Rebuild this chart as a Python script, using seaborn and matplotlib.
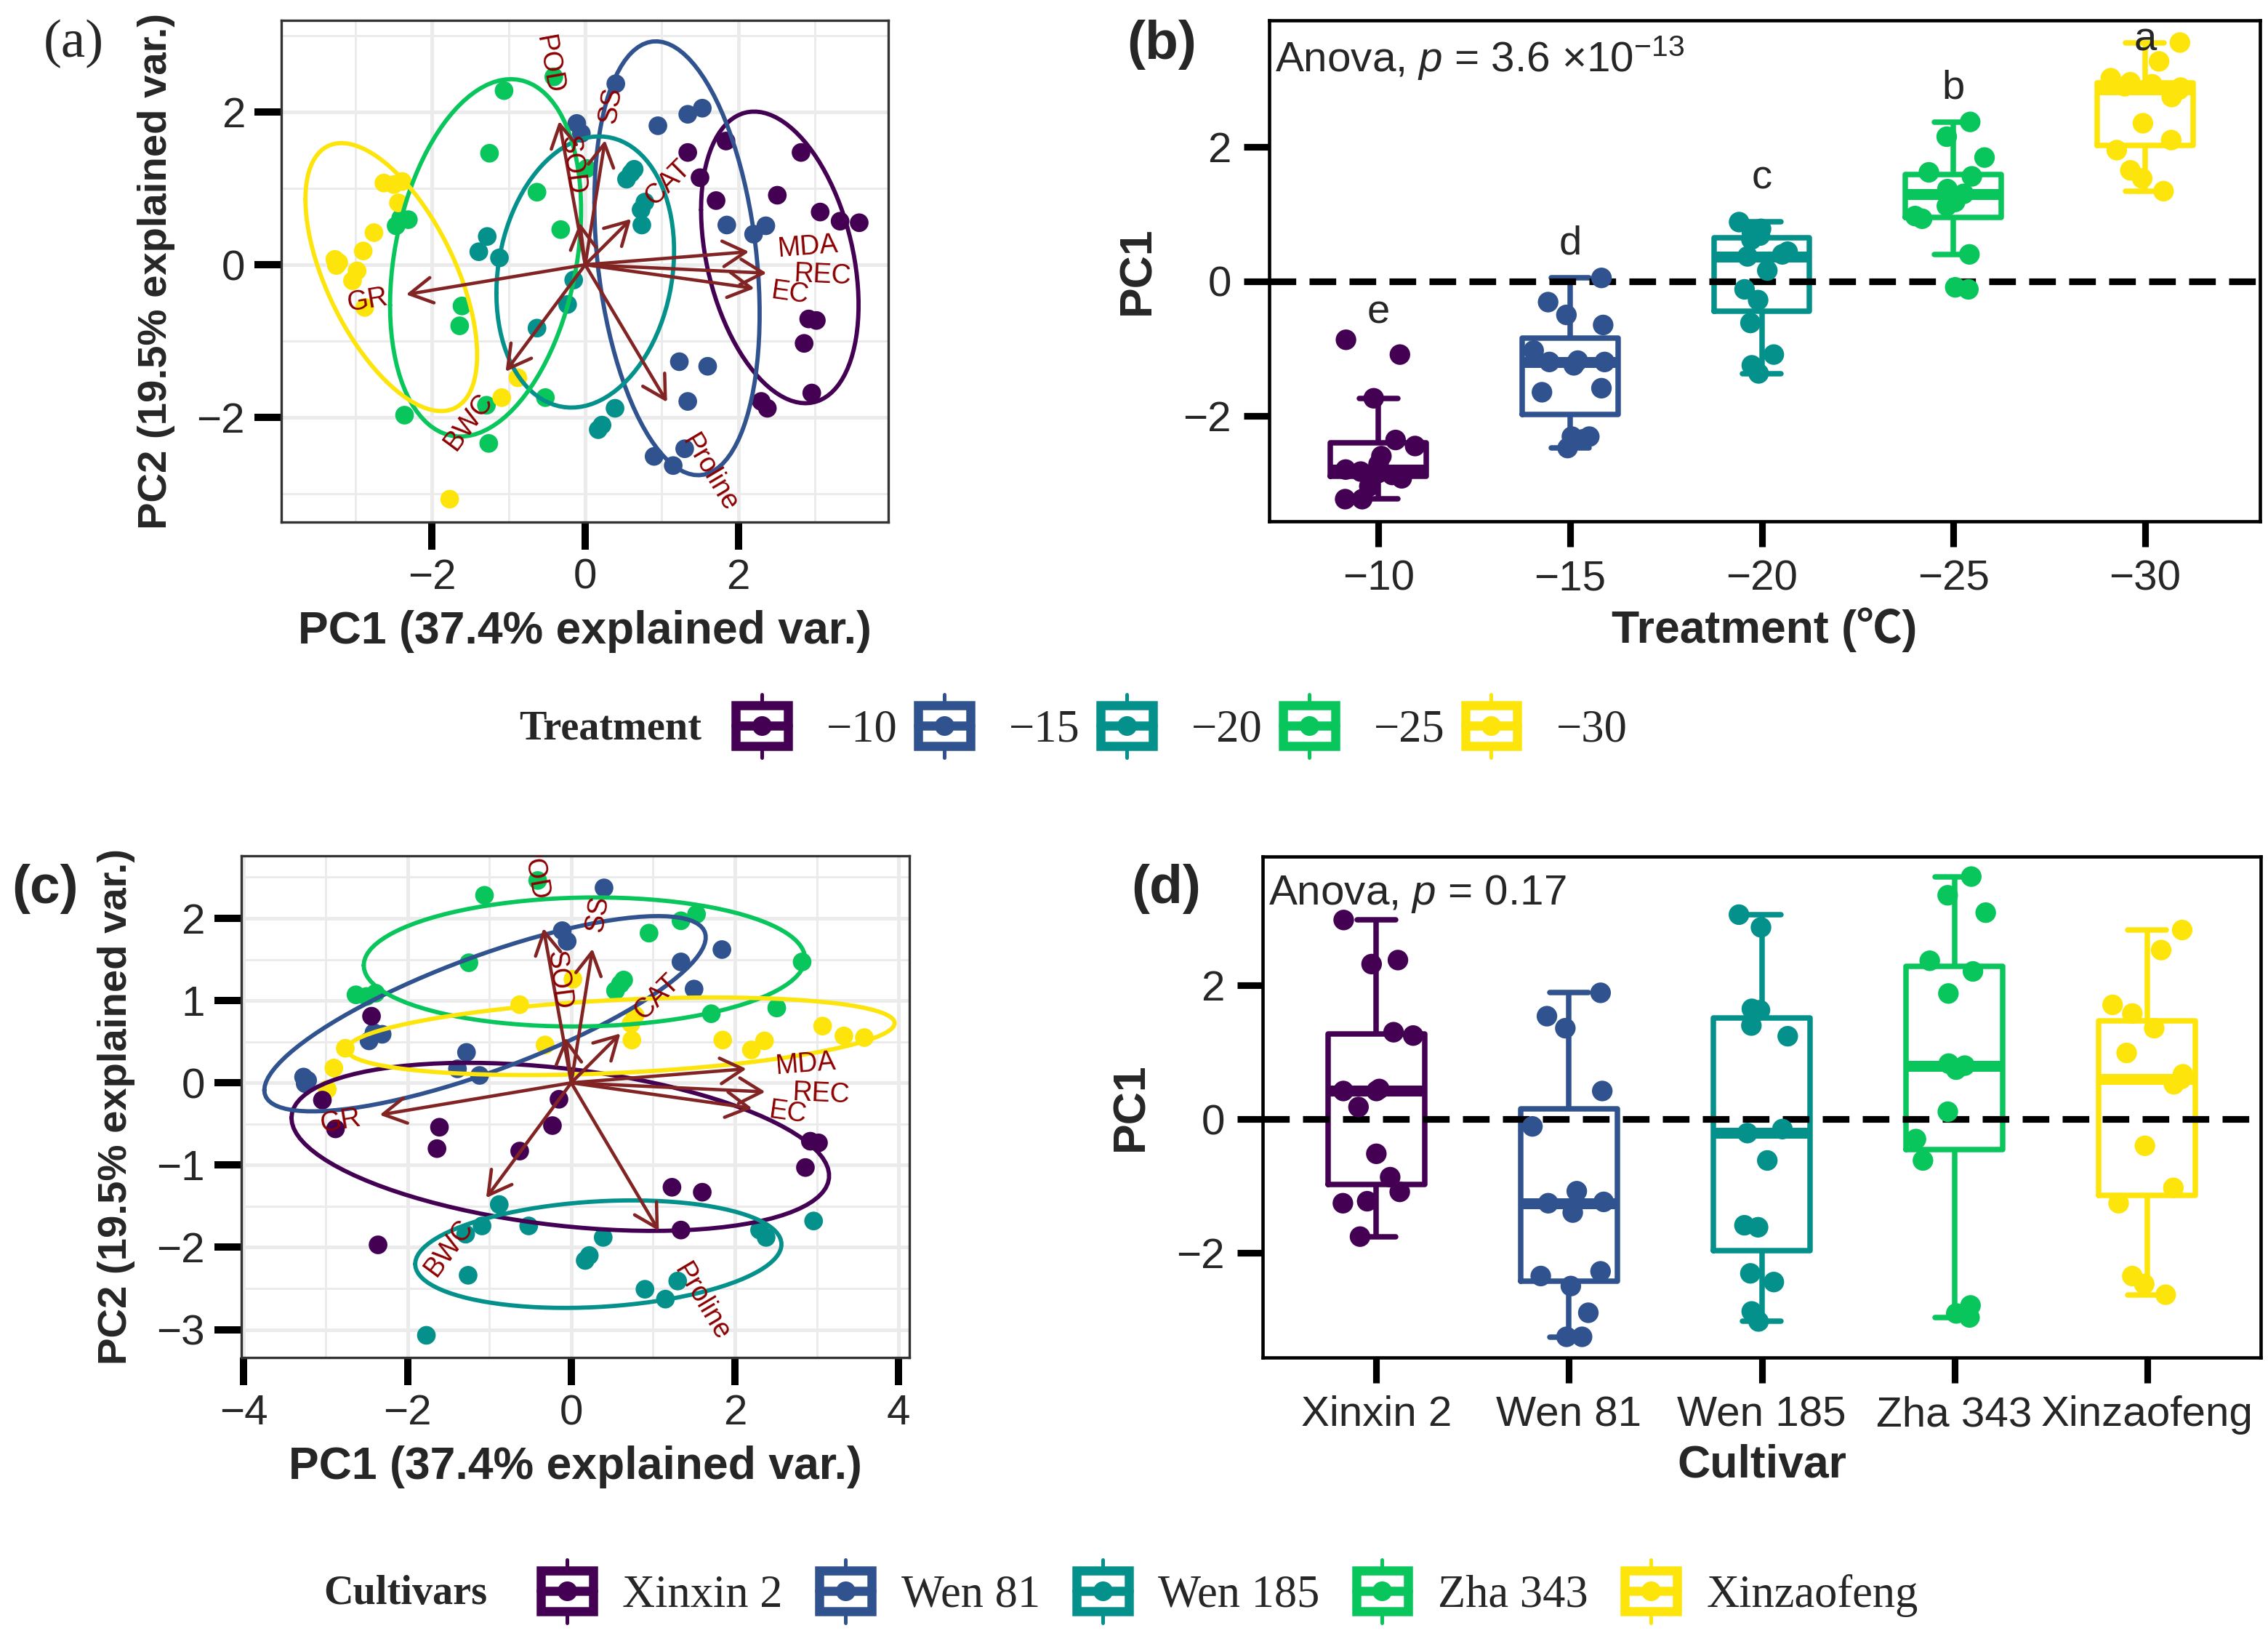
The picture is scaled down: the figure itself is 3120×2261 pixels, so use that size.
import numpy as np
import pandas as pd
import matplotlib
matplotlib.use("Agg")
import matplotlib.pyplot as plt
import matplotlib.transforms as mtransforms
import seaborn as sns
from matplotlib.legend_handler import HandlerBase
from matplotlib.patches import Rectangle
from matplotlib.lines import Line2D
from matplotlib.textpath import TextPath
from matplotlib.font_manager import FontProperties

# ---------------- data ----------------
treat_levels = ["−10", "−15", "−20", "−25", "−30"]
cult_levels = ["Xinxin 2", "Wen 81", "Wen 185", "Zha 343", "Xinzaofeng"]
palette = ["#440154", "#30528F", "#05918B", "#08C55C", "#FDE50B"]

# PCA scores, one block of 15 samples per treatment,
# cultivars inside each block: Wen 81, Zha 343, Xinzaofeng, Xinxin 2, Wen 185 (3 reps)
pca_pc1 = [1.84, 1.34, 1.50, 1.71, 2.51, 2.82, 3.07, 3.33, 3.58, 2.92, 3.02, 2.86, 2.96, 2.30, 2.38,
           -0.11, -0.05, 0.40, 0.95, 1.34, 1.53, 1.85, 2.36, 2.20, 1.23, 1.60, 1.34, 0.90, 1.15, 1.30,
           -1.28, -1.39, -1.12, 0.64, 0.54, 0.60, 0.78, 0.73, 0.74, -0.15, -0.23, -0.63, 0.39, 0.17, 0.22,
           -2.31, -2.47, -2.41, -1.06, -0.41, -1.25, -0.63, 0.02, -0.32, -1.61, -1.64, -2.36, -1.29, -1.26, -0.52,
           -3.27, -3.25, -3.22, -2.63, -2.39, -2.50, -2.76, -2.90, -2.98, -2.44, -3.04, -2.88, -0.88, -1.09, -1.77]
pca_pc2 = [1.62, 1.47, 1.14, 0.84, 0.91, 1.47, 0.69, 0.57, 0.55, -0.71, -0.73, -1.03, -1.68, -1.79, -1.88,
           1.85, 1.72, 2.37, 1.82, 1.97, 2.05, 0.52, 0.51, 0.40, -1.27, -1.33, -1.79, -2.51, -2.63, -2.41,
           0.37, 0.17, 0.09, 1.25, 1.12, 1.20, 0.82, 0.72, 0.52, -0.20, -0.52, -0.83, -1.88, -2.16, -2.10,
           0.59, 0.51, 0.61, 2.28, 2.46, 1.46, 0.95, 1.26, 0.46, -0.54, -0.80, -1.97, -1.84, -2.34, -1.74,
           0.07, -0.01, 0.03, 1.07, 1.09, 1.05, 0.42, 0.18, -0.08, 0.81, -0.21, -0.56, -1.48, -1.74, -3.07]
block_cultivars = ["Wen 81", "Zha 343", "Xinzaofeng", "Xinxin 2", "Wen 185"]
pca_treatment = list(np.repeat(treat_levels, 15))
pca_cultivar = list(np.tile(np.repeat(block_cultivars, 3), 5))

# variable loadings (arrow tips)
var_names = ["GR", "BWC", "Proline", "MDA", "REC", "EC", "CAT", "SS", "POD", "SOD"]
load_x = [-2.34, -1.04, 1.07, 2.14, 2.37, 2.21, 0.60, 0.26, -0.34, -0.07]
load_y = [-0.39, -1.40, -1.80, 0.17, -0.11, -0.31, 0.60, 1.63, 1.88, 0.55]

# PC1 by treatment (panel b)
pc1_t10 = [-0.87, -1.09, -1.74, -2.36, -2.45, -2.60, -2.72, -2.80, -2.83, -2.85, -2.88, -2.93, -3.05, -3.24, -3.24]
pc1_t15 = [0.05, -0.31, -0.50, -0.65, -1.03, -1.18, -1.20, -1.20, -1.25, -1.59, -1.65, -2.31, -2.31, -2.35, -2.48]
pc1_t20 = [0.88, 0.78, 0.72, 0.68, 0.62, 0.44, 0.40, 0.37, 0.16, -0.12, -0.28, -0.62, -1.09, -1.25, -1.37]
pc1_t25 = [2.37, 2.15, 1.84, 1.62, 1.56, 1.37, 1.34, 1.30, 1.18, 1.12, 0.97, 0.93, 0.40, -0.09, -0.12]
pc1_t30 = [3.55, 3.27, 3.02, 2.96, 2.93, 2.90, 2.88, 2.85, 2.74, 2.35, 2.10, 1.95, 1.65, 1.53, 1.34]
sig_letters = ["e", "d", "c", "b", "a"]
letter_y = [-0.47, 0.56, 1.53, 2.87, 3.58]

# PC1 by cultivar (panel d)
pc1_xinxin2 = [2.98, 2.38, 2.32, 1.30, 1.25, 0.45, 0.42, 0.42, 0.18, -0.52, -0.87, -1.09, -1.23, -1.26, -1.76]
pc1_wen81 = [1.89, 1.54, 1.36, 0.42, -0.11, -1.08, -1.24, -1.26, -1.40, -2.28, -2.35, -2.50, -2.90, -3.26, -3.26]
pc1_wen185 = [3.06, 2.87, 1.65, 1.63, 1.40, 1.24, -0.15, -0.21, -0.62, -1.59, -1.62, -2.31, -2.44, -2.88, -3.03]
pc1_zha343 = [3.63, 3.35, 3.09, 2.37, 2.21, 1.88, 0.83, 0.80, 0.74, 0.11, -0.30, -0.62, -2.79, -2.91, -2.97]
pc1_xinzaofeng = [2.83, 2.53, 1.71, 1.58, 1.36, 0.99, 0.67, 0.60, 0.52, -0.40, -1.03, -1.26, -2.35, -2.47, -2.63]

# ---------------- frames ----------------
scores = pd.DataFrame({"PC1": pca_pc1, "PC2": pca_pc2,
                       "Treatment": pca_treatment, "Cultivar": pca_cultivar})
by_treat = pd.DataFrame({
    "Treatment": np.repeat(treat_levels, 15),
    "PC1": pc1_t10 + pc1_t15 + pc1_t20 + pc1_t25 + pc1_t30})
by_cult = pd.DataFrame({
    "Cultivar": np.repeat(cult_levels, 15),
    "PC1": pc1_xinxin2 + pc1_wen81 + pc1_wen185 + pc1_zha343 + pc1_xinzaofeng})

# ---------------- style ----------------
sns.set_theme(style="white")
plt.rcParams["font.family"] = ["Liberation Sans", "DejaVu Sans"]
plt.rcParams["mathtext.fontset"] = "custom"
plt.rcParams["mathtext.rm"] = "Liberation Sans"
plt.rcParams["mathtext.it"] = "Liberation Sans:italic"

W, H = 3120, 2261
fig = plt.figure(figsize=(W / 300, H / 300), dpi=300)


def px_axes(x0, y0, x1, y1):
    return fig.add_axes([x0 / W, 1 - y1 / H, (x1 - x0) / W, (y1 - y0) / H])


TICK = 14
TITLE = 15


def ellipse_path(x, y, prob=0.68, n=100):
    pts = np.column_stack([x, y])
    mu = pts.mean(axis=0)
    sigma = np.cov(pts, rowvar=False)
    ed = np.sqrt(-2 * np.log(1 - prob))
    theta = np.linspace(-np.pi, np.pi, n)
    circle = np.column_stack([np.cos(theta), np.sin(theta)])
    ell = circle @ np.linalg.cholesky(sigma).T * ed + mu
    return ell[:, 0], ell[:, 1]


def biplot(ax, group_col, levels, xlim, ylim, xt, yt, xminor, yminor):
    sns.scatterplot(data=scores, x="PC1", y="PC2", hue=group_col, hue_order=levels,
                    palette=palette, s=38, linewidth=0, legend=False, ax=ax, zorder=2)
    for lev, col in zip(levels, palette):
        sub = scores[scores[group_col] == lev]
        ex, ey = ellipse_path(sub["PC1"].values, sub["PC2"].values)
        ax.plot(ex, ey, color=col, lw=1.4, zorder=3)
    fp = FontProperties(family="Liberation Sans", size=9)
    for name, vx, vy in zip(var_names, load_x, load_y):
        ax.annotate("", xy=(vx, vy), xytext=(0, 0), zorder=4, annotation_clip=False,
                    arrowprops=dict(arrowstyle="->,head_length=0.75,head_width=0.42",
                                    mutation_scale=10, color="#832424", lw=1.1,
                                    shrinkA=0, shrinkB=0))
        ang = np.degrees(np.arctan(vy / vx))
        w = TextPath((0, 0), name, prop=fp).get_extents().width
        r = np.hypot(vx, vy)
        off = mtransforms.offset_copy(ax.transData, fig=fig, x=0.5 * w * vx / r,
                                      y=0.5 * w * vy / r, units="points")
        ax.text(vx, vy, name, rotation=ang, rotation_mode="anchor",
                ha="left" if vx > 0 else "right", va="center", color="#8B0000",
                fontproperties=fp, transform=off, zorder=5, clip_on=True)
    ax.set_xlim(*xlim)
    ax.set_ylim(*ylim)
    ax.set_xticks(xt)
    ax.set_yticks(yt)
    ax.set_xticks(xminor, minor=True)
    ax.set_yticks(yminor, minor=True)
    ax.grid(True, which="major", color="#EBEBEB", lw=1.2)
    ax.grid(True, which="minor", color="#EBEBEB", lw=0.7)
    ax.set_axisbelow(True)
    ax.tick_params(which="major", length=9, width=2.4, color="black", labelsize=TICK,
                   pad=3, bottom=True, left=True)
    ax.tick_params(which="minor", length=0)
    for sp in ax.spines.values():
        sp.set_color("#333333")
        sp.set_linewidth(0.8)
    ax.set_xlabel("PC1 (37.4% explained var.)", fontsize=TITLE, fontweight="bold", labelpad=4)
    ax.set_ylabel("PC2 (19.5% explained var.)", fontsize=13.5, fontweight="bold", labelpad=7)


def boxpanel(ax, data, col, levels, xlim, ylim, xlabel, anova):
    sns.boxplot(data=data, x=col, y="PC1", hue=col, order=levels, hue_order=levels,
                palette=palette, fill=False, width=0.5, linewidth=1.8, showfliers=False,
                legend=False, medianprops={"linewidth": 3.6}, capwidths=0.2, ax=ax)
    ax.axhline(0, color="black", ls=(0, (4, 2)), lw=2.2, zorder=2.5)
    np.random.seed(7)
    sns.stripplot(data=data, x=col, y="PC1", hue=col, order=levels, hue_order=levels,
                  palette=palette, jitter=0.2, size=6.8, linewidth=0, legend=False,
                  ax=ax, zorder=3)
    ax.set_xlim(*xlim)
    ax.set_ylim(*ylim)
    ax.set_yticks([-2, 0, 2])
    ax.tick_params(length=8.5, width=2.2, color="black", labelsize=TICK, pad=4,
                   bottom=True, left=True)
    for sp in ax.spines.values():
        sp.set_color("black")
        sp.set_linewidth(1.1)
    ax.set_xlabel(xlabel, fontsize=TITLE, fontweight="bold", labelpad=3)
    ax.set_ylabel("PC1", fontsize=TITLE, fontweight="bold", labelpad=8)
    ax.text(0.006, 0.925, anova, transform=ax.transAxes, fontsize=14, ha="left", va="center")


# (a) PCA by treatment
ax_a = px_axes(387, 28, 1222, 718)
biplot(ax_a, "Treatment", treat_levels, (-3.97, 3.96), (-3.37, 3.2),
       [-2, 0, 2], [-2, 0, 2], [-3, -1, 1, 3], [-3, -1, 1, 3])

# (b) PC1 by treatment
ax_b = px_axes(1746, 28, 3109, 717)
boxpanel(ax_b, by_treat, "Treatment", treat_levels, (-0.57, 4.6), (-3.57, 3.88),
         "Treatment (\u2103)", r"Anova, $\mathit{p}$ = 3.6 ×10$^{-13}$")
ax_b.xaxis.label.set_family(["Liberation Sans", "Noto Sans CJK SC"])
for i, (lt, ly) in enumerate(zip(sig_letters, letter_y)):
    ax_b.text(i, ly, lt, fontsize=13.5, ha="center", va="center")

# (c) PCA by cultivar
ax_c = px_axes(332, 1177, 1251, 1867)
biplot(ax_c, "Cultivar", cult_levels, (-4.03, 4.13), (-3.34, 2.76),
       [-4, -2, 0, 2, 4], [-3, -2, -1, 0, 1, 2], [-3, -1, 1, 3],
       [-2.5, -1.5, -0.5, 0.5, 1.5, 2.5])

# (d) PC1 by cultivar
ax_d = px_axes(1737, 1178, 3110, 1867)
boxpanel(ax_d, by_cult, "Cultivar", cult_levels, (-0.59, 4.59), (-3.57, 3.93),
         "Cultivar", r"Anova, $\mathit{p}$ = 0.17")

# panel tags
fig.text(60 / W, 1 - 60 / H, "(a)", family="Liberation Serif", fontsize=18, ha="left", va="center")
fig.text(1550 / W, 1 - 62 / H, "(b)", fontsize=18, fontweight="bold", ha="left", va="center")
fig.text(16 / W, 1 - 1222 / H, "(c)", fontsize=18, fontweight="bold", ha="left", va="center")
fig.text(1556 / W, 1 - 1222 / H, "(d)", fontsize=18, fontweight="bold", ha="left", va="center")


# legends with boxplot-like keys
class BoxKey(HandlerBase):
    def create_artists(self, legend, orig_handle, xdescent, ydescent, width, height,
                       fontsize, trans):
        c = orig_handle.get_color()
        x0, y0 = -xdescent, -ydescent
        cx, cy = x0 + width / 2, y0 + height / 2
        whisk = Line2D([cx, cx], [y0 - 0.28 * height, y0 + 1.28 * height], color=c,
                       lw=1.2, transform=trans)
        box = Rectangle((x0, y0), width, height, facecolor="white", edgecolor=c,
                        lw=3.0, transform=trans)
        med = Line2D([x0, x0 + width], [cy, cy], color=c, lw=3.0, transform=trans)
        dot = Line2D([cx], [cy], marker="o", ms=6.5, mew=0, color=c, transform=trans)
        return [whisk, box, med, dot]


serif = FontProperties(family="Liberation Serif", size=15)
serif_b = FontProperties(family="Liberation Serif", size=13.5, weight="bold")
handles = [Line2D([], [], color=c) for c in palette]

fig.text(714 / W, 1 - 1002 / H, "Treatment", fontproperties=serif_b, ha="left", va="center")
fig.legend(handles, treat_levels, loc="center left", bbox_to_anchor=(1012 / W, 1 - 1002 / H),
           ncol=5, frameon=False, handler_map={Line2D: BoxKey()}, prop=serif,
           handlelength=1.15, handleheight=1.0, handletextpad=0.85, columnspacing=0.45,
           borderpad=0, borderaxespad=0)

fig.text(445 / W, 1 - 2192 / H, "Cultivars", fontproperties=serif_b, ha="left", va="center")
fig.legend(handles, cult_levels, loc="center left", bbox_to_anchor=(744 / W, 1 - 2192 / H),
           ncol=5, frameon=False, handler_map={Line2D: BoxKey()}, prop=serif,
           handlelength=1.15, handleheight=1.0, handletextpad=0.65, columnspacing=0.8,
           borderpad=0, borderaxespad=0)

fig.savefig("out.png", dpi=300, facecolor="white")
